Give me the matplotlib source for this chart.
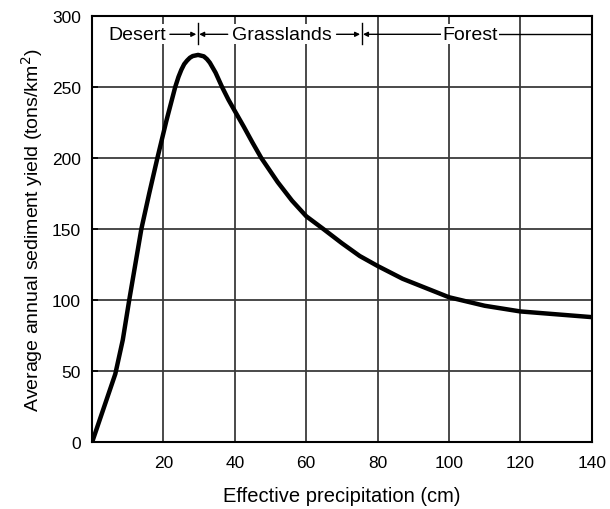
import matplotlib.pyplot as plt
import numpy as np

plt.rcParams['font.family'] = ['Liberation Sans', 'DejaVu Sans']

# Kurven
precip = [0, 6.5, 8.6, 10.4, 13.8, 16, 18.3, 20.8, 23.3, 24.2, 25, 25.8, 26.6, 27.4, 28.2,
          29.7, 31.3, 32.2, 33, 34.6, 36.4, 38.2, 40, 42.5, 44.9, 47.4, 52, 56, 60, 64.8,
          70, 75, 80, 87, 95, 100, 110, 120, 130, 140]
sediment = [0, 48, 72, 100, 150, 175, 200, 226, 250, 257, 262, 266, 268.5, 270.5, 271.7,
            272.5, 271.5, 269.5, 267, 260, 250, 241, 233, 222, 211, 200, 183, 170, 159, 150,
            140, 131, 124, 115, 107, 102, 96, 92, 90, 88]

# Zoner
zone_names = ['Desert', 'Grasslands', 'Forest']
zone_centers = [12.6, 53.3, 106]
zone_bounds = [29.6, 75.5]

x_ticks = [20, 40, 60, 80, 100, 120, 140]
y_ticks = [0, 50, 100, 150, 200, 250, 300]

fig = plt.figure(figsize=(6.1, 5.1), dpi=100)
ax = fig.add_axes([0.151, 0.131, 0.819, 0.836])

# gitter
for gx in [20, 40, 60, 80, 100, 120]:
    ax.axvline(gx, color='#3a3a3a', lw=1.3, zorder=1)
for gy in [50, 100, 150, 200, 250]:
    ax.axhline(gy, color='#3a3a3a', lw=1.3, zorder=1)

ax.plot(precip, sediment, color='black', lw=3.2, solid_capstyle='round',
        solid_joinstyle='round', zorder=3)

# zone-labels med pile
ly = 287
lab_kw = dict(fontsize=14, ha='center', va='center', zorder=5,
              bbox=dict(facecolor='white', edgecolor='none', pad=1.0))
for name, cx in zip(zone_names, zone_centers):
    ax.text(cx, ly, name, **lab_kw)

arrow_kw = dict(arrowstyle='-|>', color='black', lw=1.0, mutation_scale=7, shrinkA=0, shrinkB=0)
ax.annotate('', xy=(zone_bounds[0] - 0.4, ly), xytext=(21.8, ly), arrowprops=arrow_kw, zorder=4)
ax.annotate('', xy=(zone_bounds[0] + 0.4, ly), xytext=(38, ly), arrowprops=arrow_kw, zorder=4)
ax.annotate('', xy=(zone_bounds[1] - 0.4, ly), xytext=(68.5, ly), arrowprops=arrow_kw, zorder=4)
ax.annotate('', xy=(zone_bounds[1] + 0.4, ly), xytext=(98, ly), arrowprops=arrow_kw, zorder=4)
ax.plot([114, 140], [ly, ly], color='black', lw=1.0, zorder=4)
for b in zone_bounds:
    ax.plot([b, b], [280, 295], color='black', lw=1.0, zorder=4)

ax.set_xlim(0, 140)
ax.set_ylim(0, 300)
ax.set_xticks(x_ticks)
ax.set_yticks(y_ticks)
ax.tick_params(axis='x', length=0, pad=9, labelsize=12.5)
ax.tick_params(axis='y', direction='in', length=4, width=1.2, pad=8, labelsize=12.5)
for s in ax.spines.values():
    s.set_linewidth(1.5)

ax.set_xlabel('Effective precipitation (cm)', fontsize=14.5, labelpad=12)
ax.set_ylabel('Average annual sediment yield (tons/km$^2$)', fontsize=14, labelpad=5)

fig.savefig('out.png', dpi=100)
